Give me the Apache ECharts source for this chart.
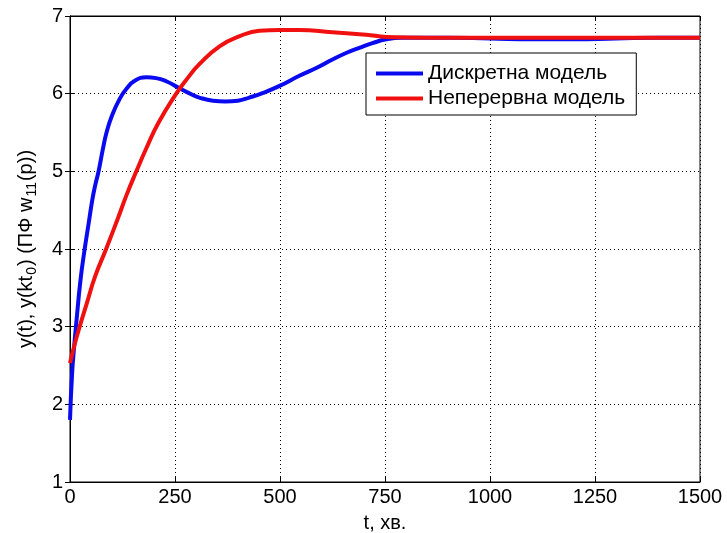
<!DOCTYPE html>
<html>
<head>
<meta charset="utf-8">
<script src="https://cdn.jsdelivr.net/npm/echarts@6/dist/echarts.min.js"></script>
<style>
  html, body { margin: 0; padding: 0; background: #fff; }
  #chart { width: 727px; height: 533px; }
</style>
</head>
<body>
<div id="chart"></div>
<script>
// discrete model (blue)
var tDisc = [0, 5, 10, 15, 25, 35, 45, 53, 60, 68, 78, 87, 100, 118, 134, 155, 182, 205, 229, 261, 290, 308, 340, 370, 400, 427, 460, 499, 546, 590, 625, 660, 689, 720, 753, 790, 820, 900, 1000, 1100, 1200, 1300, 1400, 1500];
var yDisc = [1.8, 2.4, 2.75, 3.05, 3.6, 4.0, 4.35, 4.63, 4.82, 5.0, 5.28, 5.5, 5.72, 5.93, 6.06, 6.17, 6.21, 6.2, 6.16, 6.07, 5.99, 5.95, 5.91, 5.90, 5.91, 5.95, 6.01, 6.10, 6.23, 6.34, 6.44, 6.53, 6.59, 6.65, 6.70, 6.72, 6.72, 6.72, 6.71, 6.70, 6.70, 6.71, 6.72, 6.72];

// continuous model (red)
var tCont = [0, 10, 23, 40, 60, 86, 113, 135, 158, 182, 210, 253, 280, 308, 356, 404, 451, 499, 546, 625, 705, 753, 850, 1000, 1500];
var yCont = [2.53, 2.75, 3.0, 3.3, 3.65, 4.0, 4.38, 4.7, 5.0, 5.3, 5.62, 6.0, 6.2, 6.38, 6.61, 6.74, 6.81, 6.82, 6.82, 6.79, 6.76, 6.73, 6.72, 6.72, 6.72];

var seriesNames = ['Дискретна модель', 'Неперервна модель'];
var xTicks = [0, 1500, 250];
var yTicks = [1, 7, 1];

function toPairs(ts, ys) {
    var out = [];
    for (var i = 0; i < ts.length; i++) {
        out.push([ts[i], ys[i]]);
    }
    return out;
}

var FONT = 'Liberation Sans';
var chart = echarts.init(document.getElementById('chart'));

var option = {
    backgroundColor: '#fff',
    animation: false,
    grid: {
        left: 70, right: 27, top: 16, bottom: 51,
        outerBoundsMode: 'none',
        containLabel: false,
        show: true, borderColor: '#000', borderWidth: 1, backgroundColor: '#fff'
    },
    legend: {
        orient: 'vertical',
        left: 366, top: 53,
        backgroundColor: '#fff',
        borderColor: '#000', borderWidth: 1,
        padding: [10, 11, 6, 10],
        itemGap: 4,
        icon: 'rect',
        itemWidth: 47, itemHeight: 4,
        textStyle: { fontFamily: FONT, fontSize: 21, color: '#000' },
        data: seriesNames
    },
    xAxis: [{
        type: 'value',
        min: xTicks[0], max: xTicks[1], interval: xTicks[2],
        name: 't, хв.',
        nameLocation: 'middle',
        nameGap: 31,
        nameTextStyle: { fontFamily: FONT, fontSize: 20, color: '#000' },
        axisLine: { lineStyle: { color: '#000', width: 1 } },
        axisTick: { inside: true, length: 5, lineStyle: { color: '#000' } },
        axisLabel: {
            fontFamily: FONT, fontSize: 20, color: '#000', margin: 5,
            formatter: function (v) { return String(v); }
        },
        splitLine: { show: true, lineStyle: { color: '#000', type: [1, 3], width: 1 } }
    }, {
        type: 'value', position: 'top',
        min: xTicks[0], max: xTicks[1], interval: xTicks[2],
        axisLine: { lineStyle: { color: '#000' } },
        axisTick: { inside: true, length: 5, lineStyle: { color: '#000' } },
        axisLabel: { show: false },
        splitLine: { show: false }
    }],
    yAxis: [{
        type: 'value',
        min: yTicks[0], max: yTicks[1], interval: yTicks[2],
        name: 'y(t), y(kt{sub|0}) (ПФ w{sub|11}(p))',
        nameLocation: 'middle',
        nameGap: 31,
        nameTextStyle: {
            fontFamily: FONT, fontSize: 20, color: '#000',
            rich: {
                sub: { fontFamily: FONT, fontSize: 14, color: '#000', padding: [12, 1, 0, 1] }
            }
        },
        axisLine: { lineStyle: { color: '#000', width: 1 } },
        axisTick: { inside: true, length: 5, lineStyle: { color: '#000' } },
        axisLabel: { fontFamily: FONT, fontSize: 20, color: '#000', margin: 7 },
        splitLine: { show: true, lineStyle: { color: '#000', type: [1, 3], width: 1 } }
    }, {
        type: 'value', position: 'right',
        min: yTicks[0], max: yTicks[1], interval: yTicks[2],
        axisLine: { show: true, lineStyle: { color: '#000' } },
        axisTick: { show: true, inside: true, length: 5, lineStyle: { color: '#000' } },
        axisLabel: { show: false },
        splitLine: { show: false }
    }],
    series: [{
        name: seriesNames[0],
        type: 'line',
        xAxisIndex: 0, yAxisIndex: 0,
        data: toPairs(tDisc, yDisc),
        smooth: 0.5,
        symbol: 'none',
        clip: true,
        itemStyle: { color: '#0a0af0' },
        lineStyle: { color: '#0a0af0', width: 4 }
    }, {
        name: seriesNames[1],
        type: 'line',
        xAxisIndex: 0, yAxisIndex: 0,
        data: toPairs(tCont, yCont),
        smooth: 0.5,
        symbol: 'none',
        clip: true,
        itemStyle: { color: '#f01010' },
        lineStyle: { color: '#f01010', width: 4 }
    }]
};

chart.setOption(option);
</script>
</body>
</html>
